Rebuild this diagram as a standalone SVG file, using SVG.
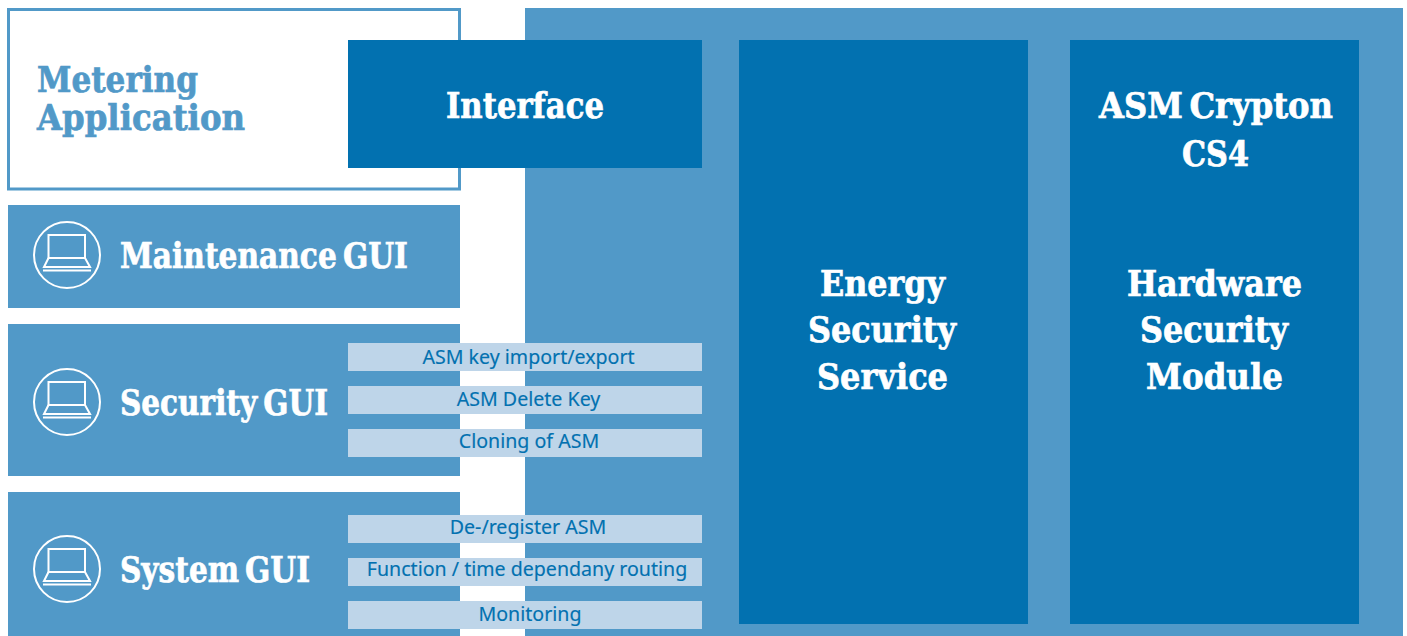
<svg xmlns="http://www.w3.org/2000/svg" xmlns:xlink="http://www.w3.org/1999/xlink" width="1407" height="636" viewBox="0 0 1407 636">
<style>
.mid{fill:#5199c8}
.dark{fill:#0271b0}
.pale{fill:#bed5e9}
.h{font-family:"DejaVu Serif","Liberation Serif",serif;font-weight:700;font-size:35px;fill:#fff;stroke:#fff;stroke-width:.7px;word-spacing:-5px}
.m{fill:#5199c8;stroke:#5199c8}
.s{font-family:"Noto Sans","Open Sans",sans-serif;font-size:19.6px;fill:#0271b0;stroke:#0271b0;stroke-width:.15px;text-anchor:middle}
.i{fill:none;stroke:#fff;stroke-width:2}
</style>
<defs>
<g id="laptop">
<circle class="i" cx="0" cy="0" r="33"/>
<rect class="i" x="-18.500" y="-20" width="36.500" height="23"/>
<path class="i" d="M-18.500 3L-23 12H23L18 3"/>
<path class="i" d="M-24 15.500H24"/>
</g>
</defs>
<rect width="1407" height="636" fill="#fff"/>
<g id="platform"><rect class="mid" x="525" y="8" width="878" height="628"/></g>
<g id="metering-application">
<rect x="8.500" y="9.500" width="451" height="179.500" fill="#fff" stroke="#5199c8" stroke-width="3"/>
<text class="h m" x="37" y="92" textLength="161" lengthAdjust="spacingAndGlyphs">Metering</text>
<text class="h m" x="37" y="130" textLength="208" lengthAdjust="spacingAndGlyphs">Application</text>
</g>
<g id="maintenance-gui">
<rect class="mid" x="8" y="205" width="452" height="103"/>
<use xlink:href="#laptop" href="#laptop" x="67" y="255"/>
<text class="h" x="120" y="268" textLength="288" lengthAdjust="spacingAndGlyphs">Maintenance GUI</text>
</g>
<g id="security-gui">
<rect class="mid" x="8" y="324" width="452" height="152"/>
<use xlink:href="#laptop" href="#laptop" x="67" y="402"/>
<text class="h" x="120" y="415" textLength="208" lengthAdjust="spacingAndGlyphs">Security GUI</text>
</g>
<g id="system-gui">
<rect class="mid" x="8" y="492" width="452" height="144"/>
<use xlink:href="#laptop" href="#laptop" x="67" y="569"/>
<text class="h" x="120" y="582" textLength="190" lengthAdjust="spacingAndGlyphs">System GUI</text>
</g>
<g id="interface">
<rect class="dark" x="348" y="40" width="354" height="128"/>
<text class="h" x="446" y="118" textLength="158" lengthAdjust="spacingAndGlyphs">Interface</text>
</g>
<g id="energy-security-service">
<rect class="dark" x="739" y="40" width="289" height="584"/>
<text class="h" x="820" y="296" textLength="125" lengthAdjust="spacingAndGlyphs">Energy</text>
<text class="h" x="808" y="342" textLength="148" lengthAdjust="spacingAndGlyphs">Security</text>
<text class="h" x="817" y="389" textLength="131" lengthAdjust="spacingAndGlyphs">Service</text>
</g>
<g id="hardware-security-module">
<rect class="dark" x="1070" y="40" width="289" height="584"/>
<text class="h" x="1099" y="118" textLength="234" lengthAdjust="spacingAndGlyphs">ASM Crypton</text>
<text class="h" x="1182" y="166" textLength="67" lengthAdjust="spacingAndGlyphs">CS4</text>
<text class="h" x="1127" y="296" textLength="175" lengthAdjust="spacingAndGlyphs">Hardware</text>
<text class="h" x="1140" y="342" textLength="148" lengthAdjust="spacingAndGlyphs">Security</text>
<text class="h" x="1146" y="389" textLength="137" lengthAdjust="spacingAndGlyphs">Module</text>
</g>
<g id="asm-key-import-export"><rect class="pale" x="348" y="343" width="354" height="28"/><text class="s" x="528.500" y="364">ASM key import/export</text></g>
<g id="asm-delete-key"><rect class="pale" x="348" y="386" width="354" height="28"/><text class="s" x="528.500" y="406">ASM Delete Key</text></g>
<g id="cloning-of-asm"><rect class="pale" x="348" y="429" width="354" height="28"/><text class="s" x="529" y="448">Cloning of ASM</text></g>
<g id="de-register-asm"><rect class="pale" x="348" y="515" width="354" height="28"/><text class="s" x="528" y="534">De-/register ASM</text></g>
<g id="function-time-routing"><rect class="pale" x="348" y="558" width="354" height="28"/><text class="s" x="527" y="576">Function / time dependany routing</text></g>
<g id="monitoring"><rect class="pale" x="348" y="601" width="354" height="28"/><text class="s" x="530" y="621">Monitoring</text></g>
<g id="connectors"></g>
</svg>
